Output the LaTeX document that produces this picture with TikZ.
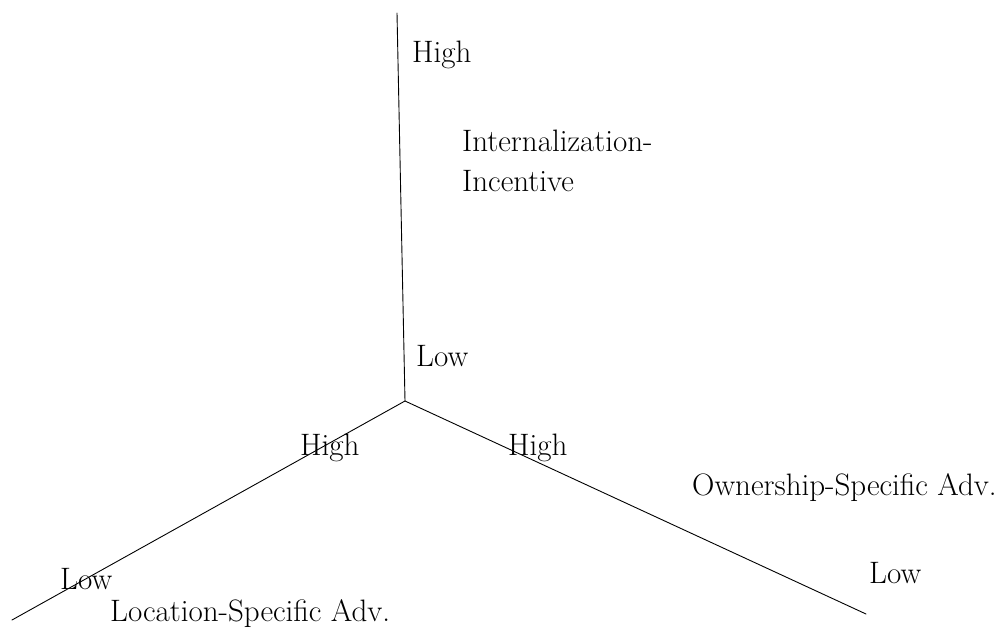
\documentclass[tikz,border=0pt]{standalone}
\usepackage{tikz}
\tikzset{
  axis/.style={line width=0.9pt,line cap=round},
  lbl/.style={anchor=base west,inner sep=0pt,font=\fontsize{31}{37}\selectfont}
}
\begin{document}
\begin{tikzpicture}[x=1pt,y=-1pt]
\useasboundingbox (0,0) rectangle (1002,636);
% the three axes meet at the origin
\coordinate (o) at (405,401);
\coordinate (top) at (397,13);
\coordinate (left) at (12,620);
\coordinate (right) at (866,614);
\draw[axis] (o) -- (top);
\draw[axis] (o) -- (left);
\draw[axis] (o) -- (right);

\node[lbl] (ihigh) at (412,63) {High};
\node[lbl] (ilow) at (416,367) {Low};
\node[lbl] (iname1) at (462,152) {Internalization-};
\node[lbl] (iname2) at (462,192) {Incentive};

\node[lbl] (lhigh) at (300,455) {High};
\node[lbl] (llow) at (60,589) {Low};
\node[lbl] (lname) at (110,621) {Location-Specific Adv.};

\node[lbl] (ohigh) at (508,455) {High};
\node[lbl] (olow) at (869,583) {Low};
\node[lbl] (oname) at (692,495) {Ownership-Specific Adv.};
\end{tikzpicture}
\end{document}
